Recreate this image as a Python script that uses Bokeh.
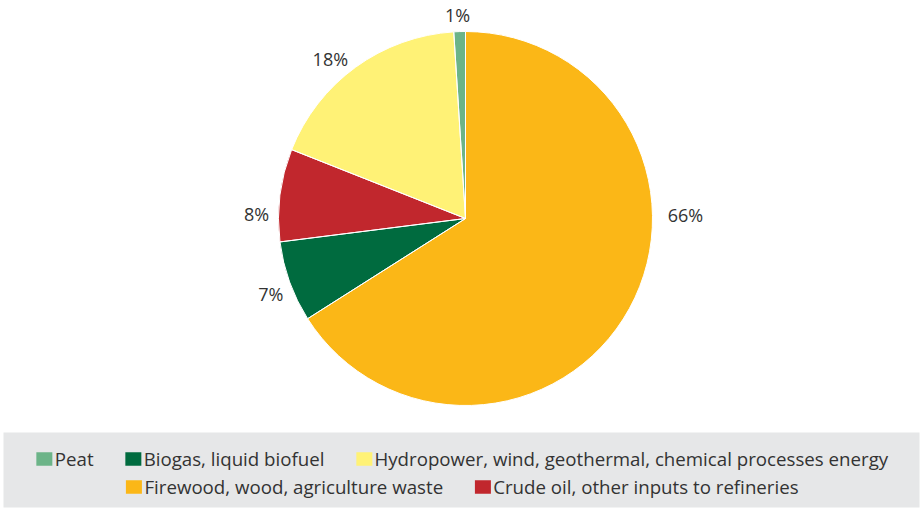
import math

from bokeh.embed import file_html
from bokeh.models import BoxAnnotation, ColumnDataSource, Legend, LegendItem, Range1d
from bokeh.plotting import figure
from bokeh.resources import INLINE

# Energy sources and their shares (%), clockwise from 12 o'clock
categories = [
    "Firewood, wood, agriculture waste",
    "Biogas, liquid biofuel",
    "Crude oil, other inputs to refineries",
    "Hydropower, wind, geothermal, chemical processes energy",
    "Peat",
]
shares = [66, 7, 8, 18, 1]
colors = ["#FBB717", "#006B3F", "#C1272D", "#FFF276", "#6CB488"]

# Legend rows (by category)
legend_row1 = ["Peat", "Biogas, liquid biofuel",
               "Hydropower, wind, geothermal, chemical processes energy"]
legend_row2 = ["Firewood, wood, agriculture waste",
               "Crude oil, other inputs to refineries"]

W, H = 922, 508
CX, CY, R = 465, 290, 187
FONT = "Open Sans"
TEXT_COLOR = "#333333"

# Wedge angles (clockwise from the top)
total = float(sum(shares))
starts, ends, mids = [], [], []
cum = 0.0
for v in shares:
    a0 = math.pi / 2 - 2 * math.pi * cum / total
    cum += v
    a1 = math.pi / 2 - 2 * math.pi * cum / total
    starts.append(a0)
    ends.append(a1)
    mids.append((a0 + a1) / 2)

# Outside labels: placed along the mid-angle, with a few nudges so that
# they sit clear of the pie like the usual "best fit" placement
nudge_deg = {"Firewood, wood, agriculture waste": 29.8,
             "Biogas, liquid biofuel": 1.5,
             "Crude oil, other inputs to refineries": 6.0,
             "Hydropower, wind, geothermal, chemical processes energy": 4.3,
             "Peat": 0.4}
dist = {"Firewood, wood, agriculture waste": 220, "Peat": 204}
lx, ly = [], []
for c, m in zip(categories, mids):
    a = m + math.radians(nudge_deg.get(c, 0))
    d = dist.get(c, 209)
    lx.append(CX + d * math.cos(a))
    ly.append(CY + d * math.sin(a))

src = ColumnDataSource(dict(
    cat=categories, share=shares, color=colors,
    start=starts, end=ends,
    lx=lx, ly=ly, label=[f"{v}%" for v in shares],
))

p = figure(width=W, height=H, output_backend="svg", toolbar_location=None,
           x_range=Range1d(0, W), y_range=Range1d(0, H),
           x_axis_type=None, y_axis_type=None, min_border=0,
           outline_line_color=None, background_fill_color="white")
p.grid.visible = False

# Grey legend panel
p.add_layout(BoxAnnotation(left=3, right=919, bottom=1, top=76,
                           fill_color="#E6E7E8", fill_alpha=1,
                           line_color=None, level="underlay"))

pie = p.wedge(x=CX, y=CY, radius=R, start_angle="start", end_angle="end",
              direction="clock", fill_color="color", line_color=None,
              source=src)
# thin white separators between slices
p.wedge(x=CX, y=CY, radius=R, start_angle="start", end_angle="end",
        direction="clock", fill_alpha=0, line_color="white", line_width=1,
        source=src)

p.text(x="lx", y="ly", text="label", source=src,
       text_align="center", text_baseline="middle",
       text_font={"value": FONT}, text_font_size="18px",
       text_color=TEXT_COLOR)


def make_legend(names, margin):
    items = [LegendItem(label=n, renderers=[pie], index=categories.index(n))
             for n in names]
    return Legend(items=items, orientation="horizontal",
                  location="bottom_center", margin=margin, padding=0,
                  spacing=29, glyph_width=20, glyph_height=17,
                  label_standoff=1, label_text_font=FONT,
                  label_text_font_size="18.7px", label_text_color=TEXT_COLOR,
                  background_fill_alpha=0, border_line_alpha=0)


p.add_layout(make_legend(legend_row1, 37))
p.add_layout(make_legend(legend_row2, 9))

open("out.html", "w").write(file_html(p, INLINE))
